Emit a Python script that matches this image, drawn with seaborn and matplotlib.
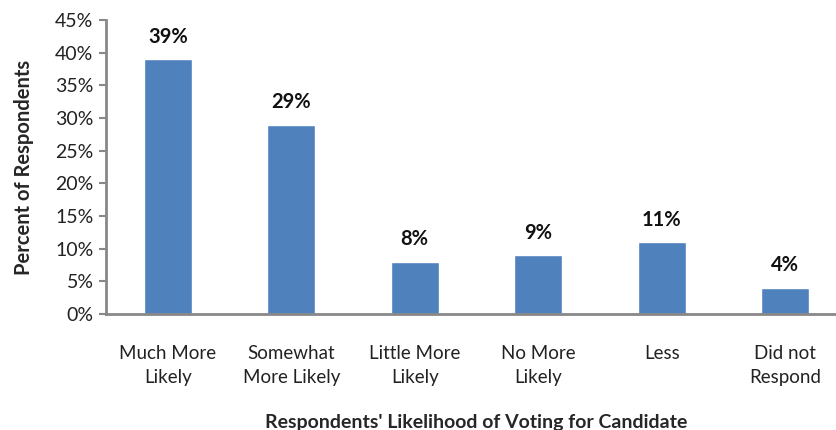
import matplotlib
matplotlib.use("Agg")
import matplotlib.pyplot as plt
import seaborn as sns
import pandas as pd

categories = ["Much More\nLikely", "Somewhat\nMore Likely", "Little More\nLikely", "No More\nLikely", "Less", "Did not\nRespond"]
values = [39, 29, 8, 9, 11, 4]
yticks = [0, 5, 10, 15, 20, 25, 30, 35, 40, 45]

sns.set_theme(style="white")
plt.rcParams['font.family'] = ['Lato', 'DejaVu Sans']

df = pd.DataFrame({"cat": categories, "val": values})

fig = plt.figure(figsize=(8.36, 4.30), dpi=100)
ax = fig.add_axes([106/836, (430-314)/430, 741/836, 294/430])
sns.barplot(data=df, x="cat", y="val", color="#4F81BD", width=0.39, saturation=1, ax=ax)

ax.set_xlim(-0.5, 5.5)
ax.set_ylim(0, 45)
ax.set_yticks(yticks)
ax.set_yticklabels([f"{t}%" for t in yticks], fontsize=14, color="#222222")
ax.tick_params(axis='y', length=5, width=1.5, color="#888888", pad=4, left=True)
ax.tick_params(axis='x', length=0, pad=22, labelsize=13.5, labelcolor="#222222")
for lbl in ax.get_xticklabels():
    lbl.set_linespacing(1.55)

for s in ["top", "right"]:
    ax.spines[s].set_visible(False)
for s in ["left", "bottom"]:
    ax.spines[s].set_color("#888888")
    ax.spines[s].set_linewidth(2)

for i, v in enumerate(values):
    ax.annotate(f"{v}%", (i, v), xytext=(0, 9), textcoords="offset points",
                ha="center", va="bottom", fontsize=14.5, fontweight="bold", color="#111111")

ax.set_ylabel("Percent of Respondents", fontsize=14.5, fontweight="bold", labelpad=15)
ax.set_xlabel("Respondents' Likelihood of Voting for Candidate", fontsize=14, fontweight="bold", labelpad=20)

fig.savefig("out.png", dpi=100)
